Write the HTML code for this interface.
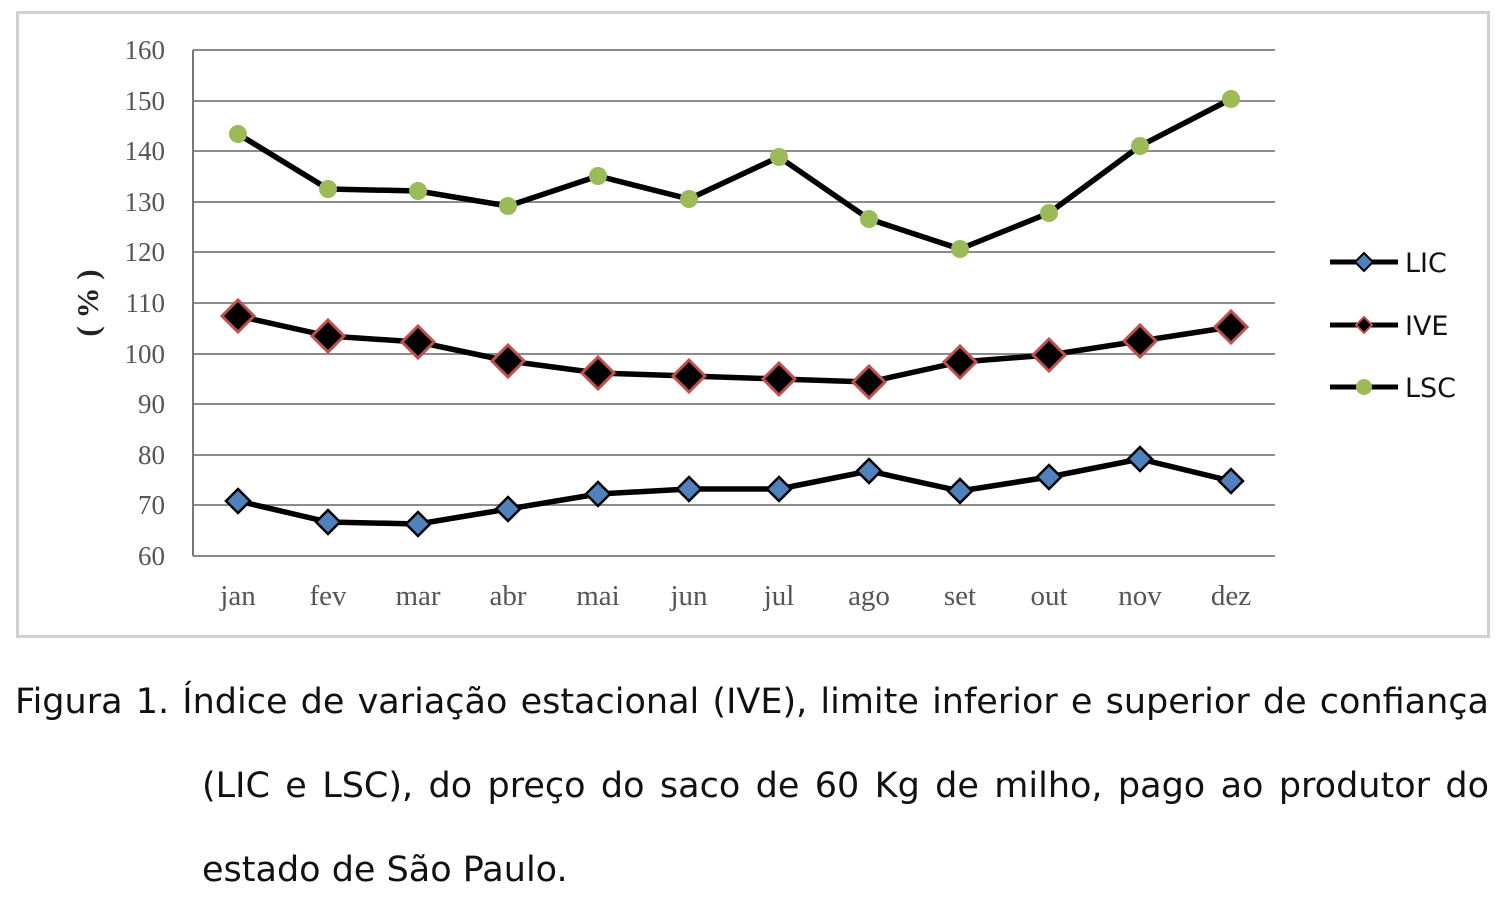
<!DOCTYPE html>
<html><head><meta charset="utf-8"><style>
html,body{margin:0;padding:0;background:#fff;width:1500px;height:908px;overflow:hidden}
.cap{position:absolute;font-family:"DejaVu Sans",Verdana,sans-serif;font-size:35px;color:#111;white-space:nowrap}
</style></head><body>
<svg width="1500" height="908" style="position:absolute;left:0;top:0">
<rect x="17.5" y="12.5" width="1471" height="624" fill="#fff" stroke="#d0d0d0" stroke-width="3"/>
<g stroke="#8c8c8c" stroke-width="2">
<line x1="193" x2="1275" y1="50" y2="50"/><line x1="193" x2="1275" y1="101" y2="101"/>
<line x1="193" x2="1275" y1="151" y2="151"/><line x1="193" x2="1275" y1="202" y2="202"/>
<line x1="193" x2="1275" y1="252" y2="252"/><line x1="193" x2="1275" y1="303" y2="303"/>
<line x1="193" x2="1275" y1="354" y2="354"/><line x1="193" x2="1275" y1="404" y2="404"/>
<line x1="193" x2="1275" y1="455" y2="455"/><line x1="193" x2="1275" y1="505" y2="505"/>
<line x1="193" x2="1275" y1="556" y2="556"/>
</g>
<line x1="193" x2="193" y1="50" y2="556" stroke="#777" stroke-width="2"/>
<g font-family="'Liberation Serif',serif" font-size="27" fill="#555" text-anchor="end">
<text x="165" y="59">160</text><text x="165" y="110">150</text><text x="165" y="160">140</text>
<text x="165" y="211">130</text><text x="165" y="261">120</text><text x="165" y="312">110</text>
<text x="165" y="363">100</text><text x="165" y="413">90</text><text x="165" y="464">80</text>
<text x="165" y="514">70</text><text x="165" y="565">60</text>
</g>
<g font-family="'Liberation Serif',serif" font-size="29" fill="#555" text-anchor="middle">
<text x="238" y="605">jan</text><text x="328" y="605">fev</text><text x="418" y="605">mar</text>
<text x="508" y="605">abr</text><text x="598" y="605">mai</text><text x="689" y="605">jun</text>
<text x="779" y="605">jul</text><text x="869" y="605">ago</text><text x="960" y="605">set</text>
<text x="1049" y="605">out</text><text x="1140" y="605">nov</text><text x="1231" y="605">dez</text>
</g>
<text transform="translate(98,303) rotate(-90)" font-family="'Liberation Serif',serif" font-weight="bold" font-size="31" fill="#222" text-anchor="middle">( % )</text>
<g fill="none" stroke="#000" stroke-width="5.5" stroke-linejoin="round">
<polyline points="238,134 328,189 418,191 508,206 598,176 689,199 779,157 869,219 960,249 1049,213 1140,146 1231,99"/>
<polyline points="238,316 328,336 418,342 508,361 598,373 689,376 779,379 869,382 960,362 1049,355 1140,341 1231,327"/>
<polyline points="238,501 328,522 418,524 508,509 598,494 689,489 779,489 869,471 960,491 1049,477 1140,459 1231,481"/>
</g>
<g fill="#9bbb59">
<circle cx="238" cy="134" r="9"/><circle cx="328" cy="189" r="9"/><circle cx="418" cy="191" r="9"/>
<circle cx="508" cy="206" r="9"/><circle cx="598" cy="176" r="9"/><circle cx="689" cy="199" r="9"/>
<circle cx="779" cy="157" r="9"/><circle cx="869" cy="219" r="9"/><circle cx="960" cy="249" r="9"/>
<circle cx="1049" cy="213" r="9"/><circle cx="1140" cy="146" r="9"/><circle cx="1231" cy="99" r="9"/>
</g>
<g fill="#000" stroke="#c0504d" stroke-width="3">
<path d="M238,300l16,16l-16,16l-16,-16z"/><path d="M328,320l16,16l-16,16l-16,-16z"/>
<path d="M418,326l16,16l-16,16l-16,-16z"/><path d="M508,345l16,16l-16,16l-16,-16z"/>
<path d="M598,357l16,16l-16,16l-16,-16z"/><path d="M689,360l16,16l-16,16l-16,-16z"/>
<path d="M779,363l16,16l-16,16l-16,-16z"/><path d="M869,366l16,16l-16,16l-16,-16z"/>
<path d="M960,346l16,16l-16,16l-16,-16z"/><path d="M1049,339l16,16l-16,16l-16,-16z"/>
<path d="M1140,325l16,16l-16,16l-16,-16z"/><path d="M1231,311l16,16l-16,16l-16,-16z"/>
</g>
<g fill="#4f81bd" stroke="#000" stroke-width="2.5">
<path d="M238,489l12,12l-12,12l-12,-12z"/><path d="M328,510l12,12l-12,12l-12,-12z"/>
<path d="M418,512l12,12l-12,12l-12,-12z"/><path d="M508,497l12,12l-12,12l-12,-12z"/>
<path d="M598,482l12,12l-12,12l-12,-12z"/><path d="M689,477l12,12l-12,12l-12,-12z"/>
<path d="M779,477l12,12l-12,12l-12,-12z"/><path d="M869,459l12,12l-12,12l-12,-12z"/>
<path d="M960,479l12,12l-12,12l-12,-12z"/><path d="M1049,465l12,12l-12,12l-12,-12z"/>
<path d="M1140,447l12,12l-12,12l-12,-12z"/><path d="M1231,469l12,12l-12,12l-12,-12z"/>
</g>
<g stroke="#000" stroke-width="5">
<line x1="1330" x2="1398" y1="262" y2="262"/><line x1="1330" x2="1398" y1="325" y2="325"/><line x1="1330" x2="1398" y1="387" y2="387"/>
</g>
<path d="M1364,253l9,9l-9,9l-9,-9z" fill="#4f81bd" stroke="#000" stroke-width="2"/>
<path d="M1364,317l8,8l-8,8l-8,-8z" fill="#000" stroke="#c0504d" stroke-width="2"/>
<circle cx="1364" cy="387" r="8" fill="#9bbb59"/>
<g font-family="'DejaVu Sans',sans-serif" font-size="27" fill="#111">
<text x="1405" y="272">LIC</text><text x="1405" y="335">IVE</text><text x="1405" y="397">LSC</text>
</g>
</svg>
<div class="cap" style="left:15px;top:682px;width:1474px;text-align:justify;text-align-last:justify">Figura 1. Índice de variação estacional (IVE), limite inferior e superior de confiança</div>
<div class="cap" style="left:202px;top:766px;width:1287px;text-align:justify;text-align-last:justify">(LIC e LSC), do preço do saco de 60 Kg de milho, pago ao produtor do</div>
<div class="cap" style="left:202px;top:850px">estado de São Paulo.</div>
</body></html>
